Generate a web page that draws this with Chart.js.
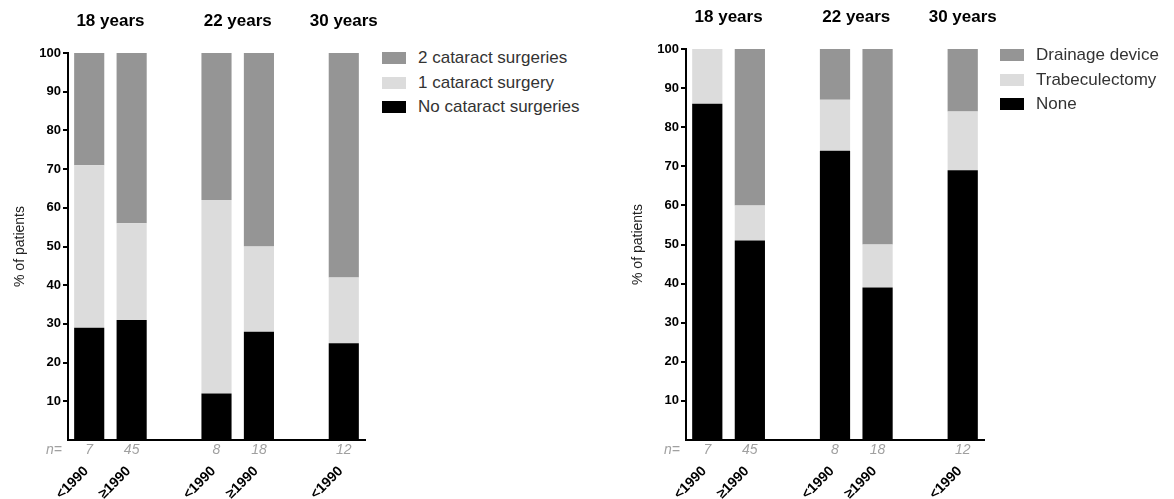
<!DOCTYPE html>
<html>
<head>
<meta charset="UTF-8">
<title>Cataract and glaucoma surgeries by cohort</title>
<script src="https://cdn.jsdelivr.net/npm/chart.js@4.4.0/dist/chart.umd.min.js"></script>
<style>
    body { margin: 0; background: #fff; font-family: "Liberation Sans", Arial, sans-serif; }
    .panel { position: absolute; top: 0; height: 499px; }
    .legend { position: absolute; font-size: 17px; color: #333; line-height: 24.5px; white-space: nowrap; }
    .legend .sw { display: inline-block; width: 24px; height: 12px; margin-right: 12px; vertical-align: -1px; }
</style>

<script>
    // categories (empty slots give the gaps between age groups)
    var yearLabels = ["<1990", "≥1990", "", "<1990", "≥1990", "", "<1990"];
    var nLabels = ["7", "45", "", "8", "18", "", "12"];
    var groupTitles = ["18 years", "22 years", "30 years"];
    var groupMembers = [[0, 1], [3, 4], [6]];

    // left: cataract surgeries (% of patients)
    var cataractNone = [29, 31, null, 12, 28, null, 25];
    var cataractOne = [42, 25, null, 50, 22, null, 17];
    var cataractTwo = [29, 44, null, 38, 50, null, 58];

    // right: glaucoma surgeries (% of patients)
    var glaucomaNone = [86, 51, null, 74, 39, null, 69];
    var glaucomaTrab = [14, 9, null, 13, 11, null, 15];
    var glaucomaDrain = [0, 40, null, 13, 50, null, 16];

    var FONT = '"Liberation Sans", Arial, sans-serif';
    var BLACK = '#000000', LIGHT = '#dcdcdc', GRAY = '#959595';

    var groupTitlePlugin = {
        id: 'groupTitles',
        afterDraw: function (chart) {
            var ctx = chart.ctx;
            var x = chart.scales.x;
            var area = chart.chartArea;
            ctx.save();
            ctx.font = 'bold 17px ' + FONT;
            ctx.fillStyle = '#000';
            ctx.textAlign = 'center';
            ctx.textBaseline = 'alphabetic';
            groupMembers.forEach(function (m, i) {
                var px = (x.getPixelForValue(m[0]) + x.getPixelForValue(m[m.length - 1])) / 2;
                ctx.fillText(groupTitles[i], px, area.top - 27);
            });
            // "n=" in front of the count row
            ctx.font = 'italic 14px ' + FONT;
            ctx.fillStyle = '#a0a0a0';
            ctx.textAlign = 'right';
            ctx.textBaseline = 'middle';
            ctx.fillText('n=', area.left - 6, x.top + 10);
            ctx.restore();
        }
    };

    function makeChart(canvasId, datasets, topPad, rightPad) {
        var ctx = document.getElementById(canvasId).getContext('2d');
        return new Chart(ctx, {
            type: 'bar',
            data: { labels: yearLabels, datasets: datasets },
            options: {
                responsive: true,
                maintainAspectRatio: false,
                animation: false,
                layout: { padding: { top: topPad, right: rightPad, left: 0, bottom: 0 } },
                plugins: { legend: { display: false }, tooltip: { enabled: true } },
                datasets: { bar: { barPercentage: 0.71, categoryPercentage: 1.0 } },
                scales: {
                    x: {
                        stacked: true,
                        offset: true,
                        labels: nLabels,
                        grid: { display: false, drawTicks: false, tickLength: 0 },
                        border: { display: true, color: '#000', width: 2 },
                        ticks: { color: '#a0a0a0', font: { family: FONT, size: 14, style: 'italic' }, maxRotation: 0, autoSkip: false, padding: 2 },
                        afterFit: function (s) { s.height = 19; }
                    },
                    x2: {
                        type: 'category',
                        position: 'bottom',
                        offset: true,
                        labels: yearLabels,
                        grid: { display: false, drawTicks: false, tickLength: 0 },
                        border: { display: false },
                        ticks: { color: '#000', font: { family: FONT, size: 14, weight: 'bold' }, minRotation: 45, maxRotation: 45, autoSkip: false, padding: 4, labelOffset: -3 },
                        afterFit: function (s) { s.height = 40; }
                    },
                    y: {
                        stacked: true,
                        min: 0,
                        max: 100,
                        ticks: {
                            stepSize: 10,
                            color: '#000',
                            padding: 2,
                            font: { family: FONT, size: 13, weight: 'bold' },
                            callback: function (v) { return v === 0 ? '' : v; }
                        },
                        grid: {
                            drawOnChartArea: false,
                            drawTicks: true,
                            tickLength: 5,
                            lineWidth: 2,
                            color: function (c) { return c.tick && c.tick.value === 0 ? 'rgba(0,0,0,0)' : '#000'; }
                        },
                        border: { display: true, color: '#000', width: 2 },
                        title: { display: true, text: '% of patients', color: '#222', font: { family: FONT, size: 14 }, padding: { top: 12, bottom: 0 } },
                        afterFit: function (s) { s.width = 68; }
                    }
                }
            },
            plugins: [groupTitlePlugin]
        });
    }

    function makeLegend(divId, datasets) {
        var div = document.getElementById(divId);
        datasets.slice().reverse().forEach(function (d) {
            var row = document.createElement('div');
            var sw = document.createElement('span');
            sw.className = 'sw';
            sw.style.background = d.backgroundColor;
            row.appendChild(sw);
            row.appendChild(document.createTextNode(d.label));
            div.appendChild(row);
        });
    }

    window.onload = function () {
        var cataractSets = [
            { label: 'No cataract surgeries', data: cataractNone, backgroundColor: BLACK },
            { label: '1 cataract surgery', data: cataractOne, backgroundColor: LIGHT },
            { label: '2 cataract surgeries', data: cataractTwo, backgroundColor: GRAY }
        ];
        var glaucomaSets = [
            { label: 'None', data: glaucomaNone, backgroundColor: BLACK },
            { label: 'Trabeculectomy', data: glaucomaTrab, backgroundColor: LIGHT },
            { label: 'Drainage device', data: glaucomaDrain, backgroundColor: GRAY }
        ];
        makeChart('cataractChart', cataractSets, 53, 15);
        makeChart('glaucomaChart', glaucomaSets, 49, 18);
        makeLegend('cataractLegend', cataractSets);
        makeLegend('glaucomaLegend', glaucomaSets);
    };
</script>
</head>

<body>
    <div class="panel" style="left:0; width:380px;"><canvas id="cataractChart"></canvas></div>
    <div class="panel" style="left:618px; width:384px;"><canvas id="glaucomaChart"></canvas></div>
    <div class="legend" id="cataractLegend" style="left:382px; top:46px;"></div>
    <div class="legend" id="glaucomaLegend" style="left:1000px; top:43px;"></div>
</body>
</html>
